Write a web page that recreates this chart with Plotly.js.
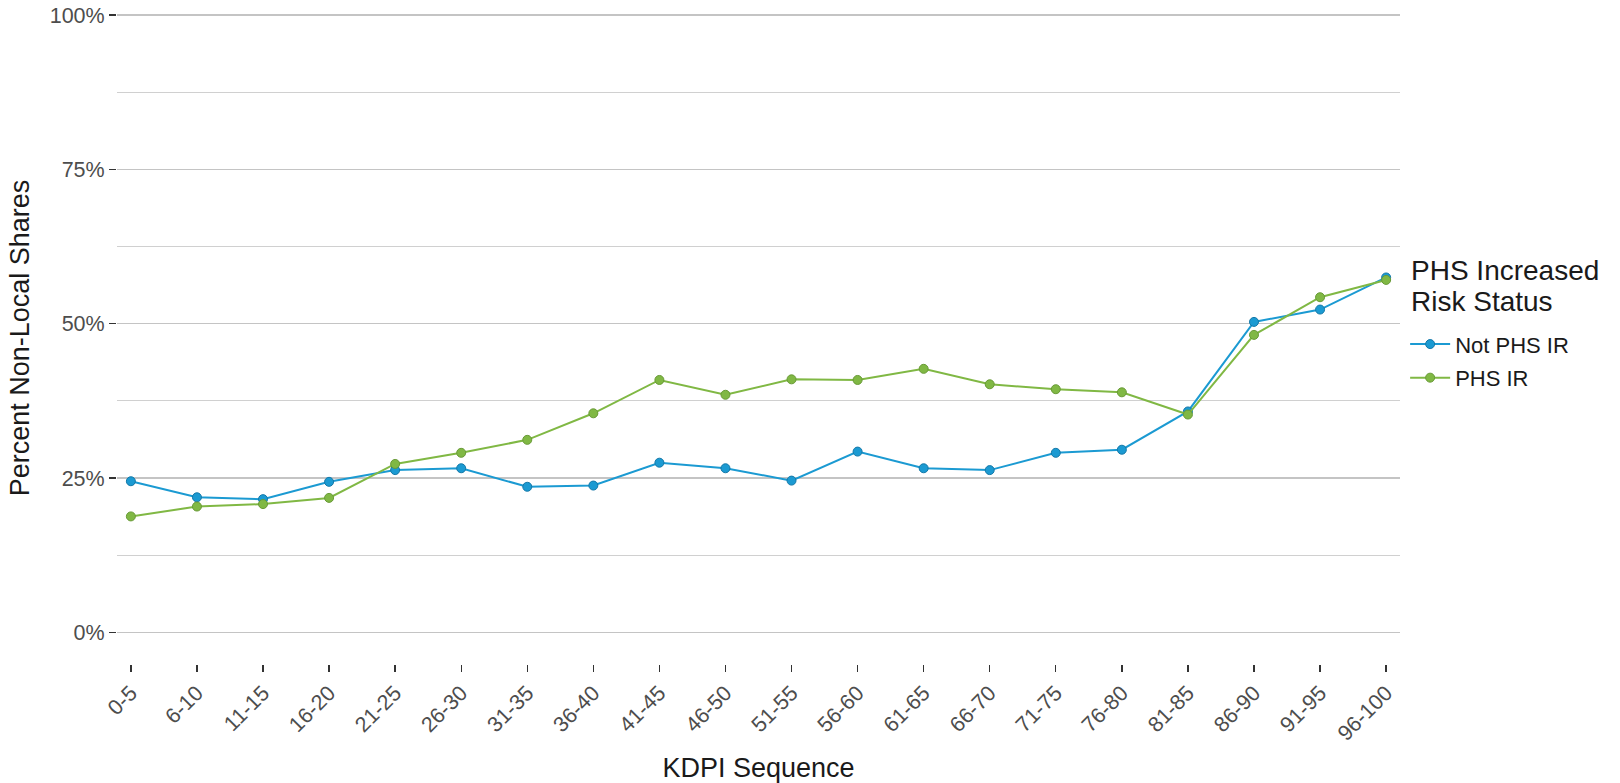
<!DOCTYPE html>
<html>
<head>
<meta charset="utf-8">
<script src="https://cdn.plot.ly/plotly-3.0.1.min.js"></script>
<style>
  html, body { margin: 0; padding: 0; background: #ffffff; }
  #chart { width: 1620px; height: 783px; }
</style>
</head>
<body>
<div id="chart"></div>
<script>
// KDPI sequence categories
const categories = ["0-5","6-10","11-15","16-20","21-25","26-30","31-35","36-40","41-45","46-50",
                    "51-55","56-60","61-65","66-70","71-75","76-80","81-85","86-90","91-95","96-100"];

// Percent non-local shares (%)
const notPhsIR = [24.5, 21.9, 21.6, 24.4, 26.3, 26.6, 23.6, 23.8, 27.5, 26.6,
                  24.6, 29.3, 26.6, 26.3, 29.1, 29.6, 35.8, 50.3, 52.3, 57.5];
const phsIR    = [18.8, 20.4, 20.8, 21.8, 27.3, 29.1, 31.2, 35.5, 40.9, 38.5,
                  41.0, 40.9, 42.7, 40.2, 39.4, 38.9, 35.3, 48.2, 54.3, 57.1];

const seriesNames = ["Not PHS IR", "PHS IR"];
const legendTitleLines = ["PHS Increased", "Risk Status"];
const yTickVals = [0, 25, 50, 75, 100];
const yTickText = ["0%", "25%", "50%", "75%", "100%"];

const FONT = "Liberation Sans, Arial, Helvetica, sans-serif";

const traces = [
  {
    x: categories, y: notPhsIR, name: seriesNames[0], type: "scatter", mode: "lines+markers",
    legendgroup: "g1",
    line: { color: "#1b9ad2", width: 2 },
    marker: { color: "#1b9ad2", size: 9, line: { color: "#1478a8", width: 1 } }
  },
  {
    x: categories, y: phsIR, name: seriesNames[1], type: "scatter", mode: "lines+markers",
    legendgroup: "g2",
    line: { color: "#80b844", width: 2 },
    marker: { color: "#80b844", size: 9, line: { color: "#689a36", width: 1 } }
  }
];

const layout = {
  width: 1620, height: 783,
  paper_bgcolor: "#ffffff", plot_bgcolor: "#ffffff",
  font: { family: FONT, color: "#1a1a1a" },
  margin: { l: 117, r: 220, t: 12, b: 118.5 },
  showlegend: true,
  legend: {
    x: 1.004, xanchor: "left", y: 0.5226, yanchor: "top",
    font: { size: 22, color: "#1a1a1a", family: FONT },
    itemwidth: 40,
    traceorder: "grouped", tracegroupgap: 2,
    bgcolor: "rgba(0,0,0,0)", borderwidth: 0
  },
  annotations: [
    { xref: "paper", yref: "paper", x: 1.0072, y: 0.6031, xanchor: "left", yanchor: "middle",
      text: legendTitleLines[0], showarrow: false, font: { size: 28, color: "#1a1a1a", family: FONT } },
    { xref: "paper", yref: "paper", x: 1.0072, y: 0.5556, xanchor: "left", yanchor: "middle",
      text: legendTitleLines[1], showarrow: false, font: { size: 28, color: "#1a1a1a", family: FONT } }
  ],
  xaxis: {
    type: "category",
    range: [-0.21, 19.21],
    showgrid: false, zeroline: false, showline: false,
    ticks: "outside", ticklen: 7, tickwidth: 1.3, tickcolor: "#333333",
    tickangle: -45,
    tickfont: { size: 21.5, color: "#4d4d4d", family: FONT },
    title: { text: "KDPI Sequence", font: { size: 27, color: "#1a1a1a", family: FONT }, standoff: 14 },
    automargin: false
  },
  yaxis: {
    range: [-5.1, 100.49],
    tickvals: yTickVals, ticktext: yTickText,
    showgrid: true, gridcolor: "#c4c4c4", gridwidth: 1.3,
    minor: { dtick: 12.5, tick0: 0, showgrid: true, gridcolor: "#d0d0d0", gridwidth: 1, ticks: "" },
    zeroline: false, showline: false,
    ticks: "outside", ticklen: 7, tickwidth: 1.3, tickcolor: "#333333",
    tickfont: { size: 21.5, color: "#4d4d4d", family: FONT },
    title: { text: "Percent Non-Local Shares", font: { size: 27, color: "#1a1a1a", family: FONT }, standoff: 12 },
    automargin: false
  }
};

Plotly.newPlot("chart", traces, layout, { displayModeBar: false, staticPlot: true });
</script>
</body>
</html>
